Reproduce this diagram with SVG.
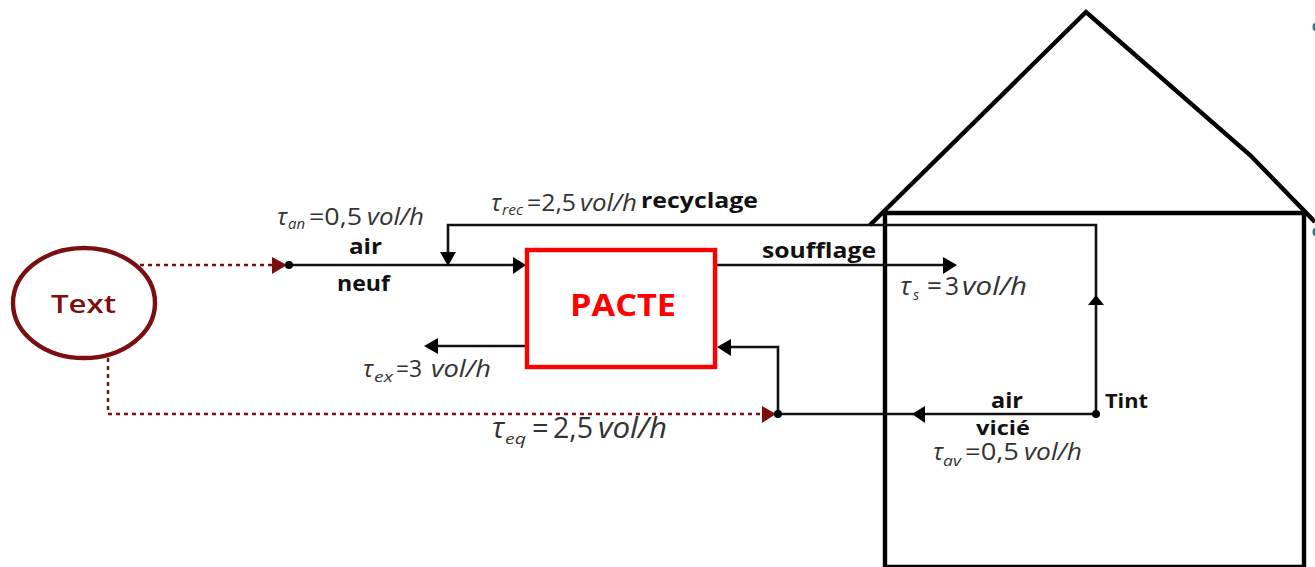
<svg xmlns="http://www.w3.org/2000/svg" width="1315" height="567" viewBox="0 0 1315 567">
<style>
.c{fill:none;stroke:#111;stroke-width:2.6}
.d{fill:none;stroke:#7a0f0f;stroke-width:2.5;stroke-dasharray:4 4}
.h{fill:none;stroke:#000;stroke-width:4.4}
.ah{fill:#000}.ar{fill:#7a0f0f}
.b{font-family:"Open Sans","Noto Sans",sans-serif;font-weight:700;font-size:21px;fill:#111}
.t{font-family:"Open Sans","Noto Sans",sans-serif;fill:#333;font-size:24px;font-weight:400}
.i{font-style:italic}
.s{font-size:14px;font-style:italic}
</style>
<rect width="1315" height="567" fill="#fff"/>
<g id="house">
<path class="h" d="M870 225L1086 12L1250 155L1315 222"/>
<path class="h" d="M885 567V213H1304V567"/>
<path class="h" d="M885 567H1304"/>
</g>
<g id="connectors">
<path class="c" d="M289 265H515"/>
<path class="c" d="M448 253V225H1096V414"/>
<path class="c" d="M715 265H945"/>
<path class="c" d="M525 346H435"/>
<path class="c" d="M1096 414H778V347H728"/>
<path class="d" d="M140 265H272"/>
<path class="d" d="M108 358V414H762"/>
<polygon class="ah" points="513,257 526,265 513,274"/>
<polygon class="ah" points="440,252 456,252 448,266"/>
<polygon class="ah" points="943,257 957,265 943,274"/>
<polygon class="ah" points="438,338 424,346 438,354"/>
<polygon class="ah" points="731,339 717,347 731,356"/>
<polygon class="ah" points="925,406 912,414 925,423"/>
<polygon class="ah" points="1088,305 1096,295 1104,305"/>
<polygon class="ar" points="272,257 287,265 272,274"/>
<polygon class="ar" points="762,406 776,414 762,423"/>
<circle class="ah" cx="289" cy="265" r="4"/>
<circle class="ah" cx="778" cy="414" r="4"/>
<circle class="ah" cx="1096" cy="414" r="4"/>
</g>
<g id="source">
<ellipse cx="84" cy="303" rx="71" ry="55" fill="none" stroke="#7a0f0f" stroke-width="4.4"/>
<text x="51" y="313" textLength="65" lengthAdjust="spacingAndGlyphs" font-family="'Open Sans','Noto Sans',sans-serif" font-weight="600" font-size="26" fill="#7a0f0f">Text</text>
</g>
<g id="pacte">
<rect x="527" y="250" width="188" height="117" fill="#fff" stroke="#f00" stroke-width="4.4"/>
<text x="570" y="316" textLength="106" lengthAdjust="spacingAndGlyphs" font-family="'Open Sans','Noto Sans',sans-serif" font-weight="700" font-size="31" fill="#f00">PACTE</text>
</g>
<g id="labels">
<text class="b" x="349" y="254" textLength="33" lengthAdjust="spacingAndGlyphs">air</text>
<text class="b" x="337" y="291" textLength="53" lengthAdjust="spacingAndGlyphs">neuf</text>
<text class="b" x="641" y="208" textLength="117" lengthAdjust="spacingAndGlyphs">recyclage</text>
<text class="b" x="762" y="258" textLength="114" lengthAdjust="spacingAndGlyphs">soufflage</text>
<text class="b" x="991" y="408" textLength="32" lengthAdjust="spacingAndGlyphs">air</text>
<text class="b" x="976" y="435" textLength="54" lengthAdjust="spacingAndGlyphs" style="font-size:19px">vicié</text>
<text class="b" x="1105" y="408" textLength="43" lengthAdjust="spacingAndGlyphs" style="font-size:19px">Tint</text>
<text class="t" y="225"><tspan class="i" x="277">τ</tspan><tspan class="s" x="288" y="229" textLength="17" lengthAdjust="spacingAndGlyphs">an</tspan><tspan x="309" y="225" textLength="53" lengthAdjust="spacingAndGlyphs">=0,5</tspan><tspan class="i" x="367" textLength="57" lengthAdjust="spacingAndGlyphs">vol/h</tspan></text>
<text class="t" y="211"><tspan class="i" x="491">τ</tspan><tspan class="s" x="502" y="215" textLength="21" lengthAdjust="spacingAndGlyphs">rec</tspan><tspan x="527" y="211" textLength="49" lengthAdjust="spacingAndGlyphs">=2,5</tspan><tspan class="i" x="580" textLength="57" lengthAdjust="spacingAndGlyphs">vol/h</tspan></text>
<text class="t" y="295" style="font-size:26px"><tspan class="i" x="900">τ</tspan><tspan class="s" x="913" y="300">s</tspan><tspan x="927" y="295">=</tspan><tspan x="945" textLength="14" lengthAdjust="spacingAndGlyphs">3</tspan><tspan class="i" x="962" textLength="65" lengthAdjust="spacingAndGlyphs">vol/h</tspan></text>
<text class="t" y="377"><tspan class="i" x="363">τ</tspan><tspan class="s" x="374" y="382" textLength="19" lengthAdjust="spacingAndGlyphs">ex</tspan><tspan x="396" y="377" textLength="26" lengthAdjust="spacingAndGlyphs">=3</tspan><tspan class="i" x="431" textLength="60" lengthAdjust="spacingAndGlyphs">vol/h</tspan></text>
<text class="t" y="438" style="font-size:29px"><tspan class="i" x="492">τ</tspan><tspan class="s" x="505" y="444" textLength="21" lengthAdjust="spacingAndGlyphs">eq</tspan><tspan x="532" y="438">=</tspan><tspan x="553" textLength="40" lengthAdjust="spacingAndGlyphs">2,5</tspan><tspan class="i" x="598" textLength="69" lengthAdjust="spacingAndGlyphs">vol/h</tspan></text>
<text class="t" y="460"><tspan class="i" x="933">τ</tspan><tspan class="s" x="943" y="466" textLength="18" lengthAdjust="spacingAndGlyphs">av</tspan><tspan x="965" y="460" textLength="54" lengthAdjust="spacingAndGlyphs">=0,5</tspan><tspan class="i" x="1024" textLength="58" lengthAdjust="spacingAndGlyphs">vol/h</tspan></text>
</g>
<g id="edge-marks" fill="#2f7f7f">
<ellipse cx="1315" cy="27" rx="2.5" ry="4"/>
<ellipse cx="1315" cy="232" rx="2.5" ry="4"/>
</g>
</svg>
